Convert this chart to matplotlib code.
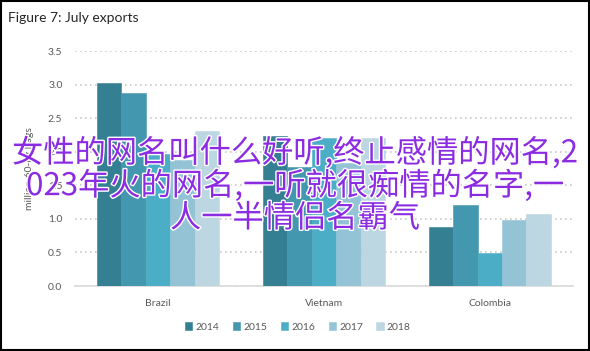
import numpy as np
import matplotlib.pyplot as plt
import matplotlib.patheffects as pe
from matplotlib.patches import Rectangle

# data
countries = ["Brazil", "Vietnam", "Colombia"]
years = ["2014", "2015", "2016", "2017", "2018"]
v2014 = [3.03, 2.24, 0.88]
v2015 = [2.88, 1.77, 1.20]
v2016 = [1.97, 2.21, 0.49]
v2017 = [1.88, 1.83, 0.99]
v2018 = [2.31, 2.21, 1.07]
colors = ["#357f92", "#4397ae", "#4badc6", "#93c3d5", "#bcd7e2"]

overlay = "女性的网名叫什么好听,终止感情的网名,2\n023年火的网名,一听就很痴情的名字,一\n人一半情侣名霸气"

plt.rcParams['font.family'] = ['Lato', 'DejaVu Sans']
grey = "#595959"

fig = plt.figure(figsize=(5.9, 3.51), dpi=100)
ax = fig.add_axes([0.127, 0.185, 0.844, 0.6695])

series = [v2014, v2015, v2016, v2017, v2018]
x = np.arange(len(countries))
w = 0.147
for i, vals in enumerate(series):
    ax.bar(x + (i - 2) * w, vals, width=w, color=colors[i], label=years[i],
           zorder=3, edgecolor=colors[i], linewidth=0.4)

ax.set_xlim(-0.5, 2.5)
ax.set_ylim(0, 3.5)
ax.set_yticks(np.arange(0, 3.51, 0.5))
ax.set_yticklabels(["%.1f" % t for t in np.arange(0, 3.51, 0.5)], fontsize=7.5, color=grey)
ax.set_xticks(x)
ax.set_xticklabels(countries, fontsize=7.5, color=grey)
ax.tick_params(axis='both', length=0, pad=9)
ax.yaxis.grid(True, linestyle=(0, (1, 2)), color="#c8c8c8", linewidth=1.2, zorder=0)
ax.set_axisbelow(True)
for s in ["top", "right", "left"]:
    ax.spines[s].set_visible(False)
ax.spines["bottom"].set_color("#d9d9d9")
ax.spines["bottom"].set_linewidth(1.2)
ax.set_ylabel("million 60-kg bags", fontsize=7.5, color=grey, labelpad=10)

leg = ax.legend(loc="center", ncol=5, frameon=False, fontsize=7.5,
                handlelength=0.7, handleheight=0.7,
                handletextpad=0.3, columnspacing=1.3)
leg.set_bbox_to_anchor((0.505, 0.068), transform=fig.transFigure)
for t in leg.get_texts():
    t.set_color(grey)

fig.text(0.014, 0.948, "Figure 7: July exports", fontsize=10, color="#262626", va="center")

# watermark style overlay text
fig.text(0.5, 0.472, overlay, ha="center", va="center", fontsize=22.5,
         family=['Noto Sans CJK SC', 'DejaVu Sans'], color="#8b2be2",
         fontweight="medium", linespacing=1.0,
         path_effects=[pe.withStroke(linewidth=2, foreground="white")])

fig.patches.append(Rectangle((0.002, 0.003), 0.996, 0.994, transform=fig.transFigure,
                             fill=False, edgecolor="black", linewidth=1.5))

fig.savefig("out.png", dpi=100)
